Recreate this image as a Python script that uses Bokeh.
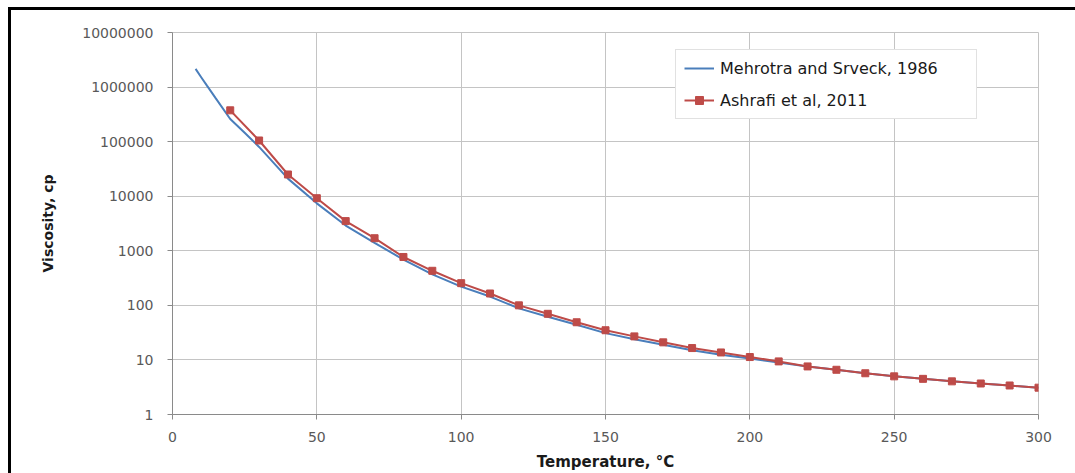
from bokeh.plotting import figure
from bokeh.models import (Range1d, FixedTicker, NumeralTickFormatter, Legend,
                          LegendItem)
from bokeh.embed import file_html
from bokeh.resources import INLINE

# Mehrotra and Svrcek (1986) correlation: temperature (°C) and viscosity (cp)
mehrotra_temp = [8, 10, 12, 15, 20, 25, 30, 40, 50, 60, 70, 80, 90, 100, 110,
                 120, 130, 140, 150, 160, 170, 180, 190, 200, 210, 220, 230,
                 240, 250, 260, 270, 280, 290, 300]
mehrotra_visc = [2150000, 1500000, 1050000, 620000, 260000, 145000, 80000,
                 21000, 7400, 2900, 1400, 690, 370, 220, 145, 88, 62, 44, 31,
                 24, 19, 15, 12.5, 10.6, 9.0, 7.6, 6.6, 5.7, 5.0, 4.5, 4.05,
                 3.7, 3.4, 3.1]

# Ashrafi et al. (2011) values
ashrafi_temp = [20, 30, 40, 50, 60, 70, 80, 90, 100, 110, 120, 130, 140, 150,
                160, 170, 180, 190, 200, 210, 220, 230, 240, 250, 260, 270,
                280, 290, 300]
ashrafi_visc = [375000, 105000, 25000, 9200, 3500, 1700, 770, 430, 255, 165,
                100, 70, 49, 35, 27, 21, 16.5, 13.7, 11.3, 9.4, 7.6, 6.6, 5.7,
                5.0, 4.5, 4.05, 3.7, 3.4, 3.1]

x_ticks = [0, 50, 100, 150, 200, 250, 300]
y_ticks = [1, 10, 100, 1000, 10000, 100000, 1000000, 10000000]

series_labels = ["Mehrotra and Srveck, 1986", "Ashrafi et al, 2011"]

BLUE = "#4a7ebb"
RED = "#be4b48"
GRID = "#c4c4c4"
AXIS = "#8a8a8a"
TICK_TEXT = "#595959"

p = figure(width=1075, height=473, y_axis_type="log",
           x_range=Range1d(0, 300), y_range=Range1d(1, 10000000),
           output_backend="svg", toolbar_location=None,
           min_border_left=172, min_border_right=37,
           min_border_top=32, min_border_bottom=58)
p.background_fill_color = "white"
# transparent border area so the black frame painted on the host shows through
p.border_fill_alpha = 0
p.outline_line_color = GRID

# outer black frame (top and left edges) drawn as the host element's background
p.styles = {
    "background": ("linear-gradient(#000, #000) 9px 7px / 100% 3px no-repeat, "
                   "linear-gradient(#000, #000) 8px 7px / 3px 100% no-repeat, "
                   "#ffffff"),
}

# grid
p.xgrid.ticker = FixedTicker(ticks=x_ticks)
p.ygrid.ticker = FixedTicker(ticks=y_ticks)
for g in (p.xgrid, p.ygrid):
    g.grid_line_color = GRID
    g.grid_line_width = 1

# axes
p.xaxis.ticker = FixedTicker(ticks=x_ticks)
p.yaxis.ticker = FixedTicker(ticks=y_ticks)
p.yaxis.formatter = NumeralTickFormatter(format="0")
for ax in (p.xaxis, p.yaxis):
    ax.axis_line_color = AXIS
    ax.major_tick_line_color = AXIS
    ax.minor_tick_line_color = None
    ax.major_tick_in = 0
    ax.major_tick_out = 5
    ax.major_label_text_font = "DejaVu Sans"
    ax.major_label_text_font_size = "14px"
    ax.major_label_text_color = TICK_TEXT
    ax.axis_label_text_font = "DejaVu Sans"
    ax.axis_label_text_font_style = "bold"
    ax.axis_label_text_color = "#1a1a1a"

p.xaxis.axis_label = "Temperature, °C"
p.xaxis.axis_label_text_font_size = "15px"
p.xaxis.major_label_standoff = 12
p.xaxis.axis_label_standoff = 8

p.yaxis.axis_label = "Viscosity, cp"
p.yaxis.axis_label_text_font_size = "14px"
p.yaxis.major_label_standoff = 14
p.yaxis.axis_label_standoff = 23

# series
blue_line = p.line(mehrotra_temp, mehrotra_visc, line_color=BLUE, line_width=2)
red_line = p.line(ashrafi_temp, ashrafi_visc, line_color=RED, line_width=2)
red_pts = p.scatter(ashrafi_temp, ashrafi_visc, marker="square", size=7,
                    fill_color=RED, line_color=RED)

legend = Legend(items=[
    LegendItem(label=series_labels[0], renderers=[blue_line]),
    LegendItem(label=series_labels[1], renderers=[red_line, red_pts]),
], location=(503, 295))
legend.label_text_font = "DejaVu Sans"
legend.label_text_font_size = "16px"
legend.label_text_color = "#1a1a1a"
legend.glyph_width = 30
legend.glyph_height = 20
legend.label_height = 20
legend.label_width = 248
legend.label_standoff = 6
legend.padding = 8
legend.spacing = 12
legend.margin = 0
legend.border_line_color = GRID
legend.border_line_width = 1
legend.background_fill_color = "white"
legend.background_fill_alpha = 1
p.add_layout(legend)

open("out.html", "w").write(file_html(p, INLINE))
